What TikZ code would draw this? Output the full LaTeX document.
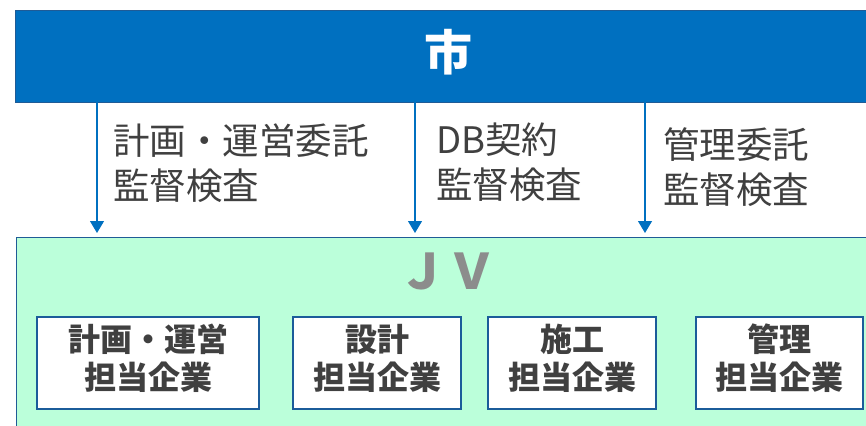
\documentclass[tikz,border=0pt]{standalone}
\usepackage{fontspec}
\setmainfont{Noto Sans CJK JP}
\usetikzlibrary{arrows.meta}
\definecolor{barblue}{HTML}{0070C0}
\definecolor{barline}{HTML}{1F5B96}
\definecolor{jvfill}{HTML}{BBFFDA}
\definecolor{boxline}{HTML}{1B5C9A}
\definecolor{txt}{HTML}{404040}
\definecolor{jvgray}{HTML}{8C8C8C}
\tikzset{
  subbox/.style={draw=boxline, line width=1.4pt, fill=white, minimum width=#1, minimum height=92pt, inner sep=0pt, align=center, text depth=13pt, font=\fontsize{32}{38}\selectfont\bfseries, text=txt},
  lbl/.style={anchor=base west, align=left, font=\fontsize{36.5}{45}\selectfont, text=txt, inner sep=0pt},
  arr/.style={draw=barblue, line width=1.1pt, -{Triangle[width=14pt,length=12pt]}}
}
\begin{document}
\begin{tikzpicture}[x=1pt,y=-1pt]
\useasboundingbox (0,0) rectangle (866,425);
\fill[white] (0,0) rectangle (866,425);
% top bar
\node[draw=barline, line width=1.2pt, fill=barblue, minimum width=860pt, minimum height=92pt, inner sep=0pt, anchor=north west] (city) at (15,10) {};
\node[text=white, font=\fontsize{48}{48}\selectfont\bfseries, inner sep=0pt] (citytext) at (448,52) {市};
% JV box
\node[draw=barline, line width=1.4pt, fill=jvfill, minimum width=860pt, minimum height=200pt, inner sep=0pt, anchor=north west] (jv) at (16,237) {};
\node[text=jvgray, font=\fontsize{49}{49}\selectfont\bfseries, inner sep=0pt] (jvtext) at (447,271.5) {ＪＶ};
% sub boxes
\node[subbox=222pt] (b1) at (148,363) {計画・運営\\担当企業};
\node[subbox=168pt] (b2) at (377,363) {設計\\担当企業};
\node[subbox=168pt] (b3) at (572,363) {施工\\担当企業};
\node[subbox=167pt] (b4) at (779.5,363) {管理\\担当企業};
% arrow coordinates
\coordinate (s1) at (97,102); \coordinate (e1) at (97,233);
\coordinate (s2) at (415,102); \coordinate (e2) at (415,233);
\coordinate (s3) at (645,102); \coordinate (e3) at (645,233);
\draw[arr] (s1) -- (e1);
\draw[arr] (s2) -- (e2);
\draw[arr] (s3) -- (e3);
% labels
\node[lbl] (l1) at (113,199) {計画・運営委託\\監督検査};
\node[lbl] (l2) at (436,198) {DB契約\\監督検査};
\node[lbl] (l3) at (663,203) {管理委託\\監督検査};
\end{tikzpicture}
\end{document}
